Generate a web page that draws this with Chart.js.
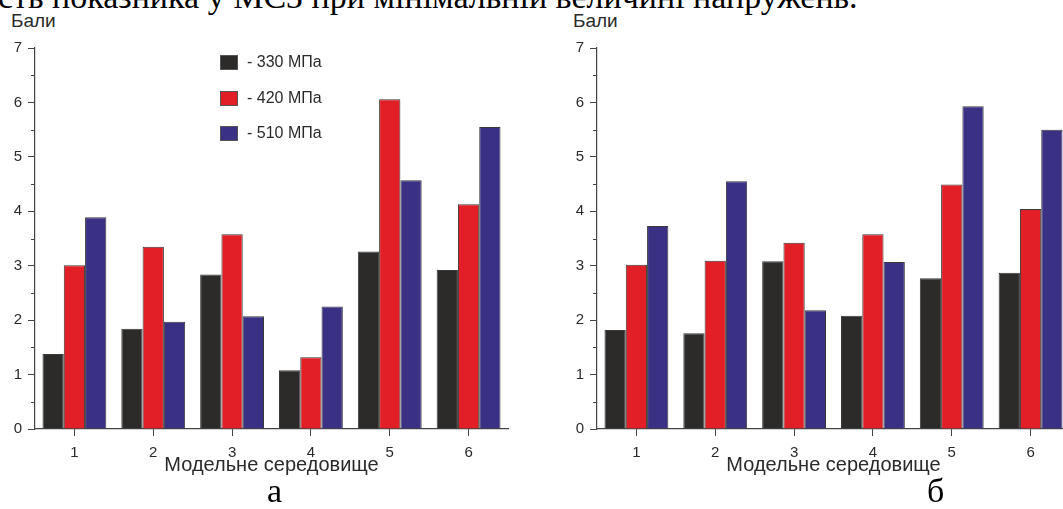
<!DOCTYPE html>
<html><head><meta charset="utf-8">
<script src="https://cdn.jsdelivr.net/npm/chart.js@4.4.1/dist/chart.umd.min.js"></script>
<style>
html,body{margin:0;padding:0;background:#fff;overflow:hidden}
#wrap{position:relative;width:1063px;height:509px;overflow:hidden;background:#fff}
.serif{position:absolute;font-family:"Liberation Serif","Times New Roman",serif;font-size:34px;line-height:34px;color:#000;white-space:nowrap}
.sans{position:absolute;font-family:"Liberation Sans",Arial,sans-serif;color:#2a2a2a;white-space:nowrap}
canvas{position:absolute;top:0}
#cA{left:0}
#cB{left:562px}
.sw{position:absolute;width:16px;height:13px;border:1px solid #555}
</style></head>
<body><div id="wrap">
<div class="serif" style="left:-2px;top:-20px">сть показника у МСЗ при мінімальній величині напружень.</div>
<div class="sans" style="left:11px;top:11px;font-size:19px;line-height:20px">Бали</div>
<div class="sans" style="left:573px;top:11px;font-size:19px;line-height:20px">Бали</div>
<canvas id="cA" width="520" height="480"></canvas>
<canvas id="cB" width="520" height="480"></canvas>
<div id="legend"></div>
<div class="serif" style="left:267px;top:474px">а</div>
<div class="serif" style="left:927px;top:474px">б</div>
</div>
<script>
const categories = ['1','2','3','4','5','6'];
const seriesLabels = ['- 330 МПа','- 420 МПа','- 510 МПа'];
const seriesColors = ['#2c2b29','#e21e26','#3a3185'];
const yTickValues = [0,1,2,3,4,5,6,7];
const xTitle = 'Модельне середовище';

// chart "а"
const a330 = [1.38,1.84,2.84,1.08,3.26,2.92];
const a420 = [3.01,3.35,3.58,1.32,6.06,4.13];
const a510 = [3.89,1.97,2.07,2.25,4.57,5.55];
// chart "б"
const b330 = [1.82,1.76,3.08,2.08,2.77,2.87];
const b420 = [3.02,3.09,3.42,3.58,4.49,4.04];
const b510 = [3.73,4.55,2.18,3.07,5.93,5.50];

const minorTicks = {
  id:'minorTicks',
  afterDraw(chart){
    const y = chart.scales.y, ctx = chart.ctx;
    ctx.save(); ctx.strokeStyle='#444'; ctx.lineWidth=1;
    for (let v = y.min + 0.5; v < y.max; v += 1) {
      const py = Math.round(y.getPixelForValue(v)) + 0.5;
      ctx.beginPath(); ctx.moveTo(y.right - 4, py); ctx.lineTo(y.right, py); ctx.stroke();
    }
    ctx.restore();
  }
};

const sansFam = '"Liberation Sans", Arial, sans-serif';

function makeChart(id, series){
  return new Chart(document.getElementById(id), {
    type:'bar',
    data:{
      labels:categories,
      datasets: series.map((d,i)=>({
        label:seriesLabels[i], data:d,
        backgroundColor:seriesColors[i], borderColor:'#3a3a3a', borderWidth:1,
        categoryPercentage:0.81, barPercentage:1.0
      }))
    },
    options:{
      responsive:false, animation:false,
      layout:{padding:{top:48,right:12,left:0,bottom:0}},
      plugins:{legend:{display:false}, tooltip:{enabled:false}},
      scales:{
        x:{
          afterFit:s=>{s.height=51;},
          grid:{display:true, drawOnChartArea:false, drawTicks:true, tickLength:7, offset:false, color:'#444'},
          border:{display:true, color:'#444', width:1.2},
          ticks:{color:'#2a2a2a', font:{family:sansFam, size:15}, padding:8},
          title:{display:true, text:xTitle, color:'#2a2a2a', font:{family:sansFam, size:20}, padding:{top:0,bottom:3}}
        },
        y:{
          min:0, max:7,
          afterFit:s=>{s.width=35;},
          afterBuildTicks:s=>{s.ticks = yTickValues.map(v=>({value:v}));},
          grid:{display:true, drawOnChartArea:false, drawTicks:true, tickLength:7, color:'#444'},
          border:{display:true, color:'#444', width:1.2},
          ticks:{color:'#2a2a2a', font:{family:sansFam, size:15}, padding:6}
        }
      }
    },
    plugins:[minorTicks]
  });
}
makeChart('cA',[a330,a420,a510]);
makeChart('cB',[b330,b420,b510]);

// legend (inside chart "а")
const lg = document.getElementById('legend');
seriesLabels.forEach((t,i)=>{
  const top = 55 + i*35.5;
  const sw = document.createElement('div');
  sw.className='sw'; sw.style.left='220px'; sw.style.top=top+'px'; sw.style.background=seriesColors[i];
  lg.appendChild(sw);
  const tx = document.createElement('div');
  tx.className='sans'; tx.textContent=t;
  tx.style.left='247px'; tx.style.top=(top-2)+'px'; tx.style.fontSize='16px'; tx.style.lineHeight='18px';
  lg.appendChild(tx);
});
</script>
</body></html>
